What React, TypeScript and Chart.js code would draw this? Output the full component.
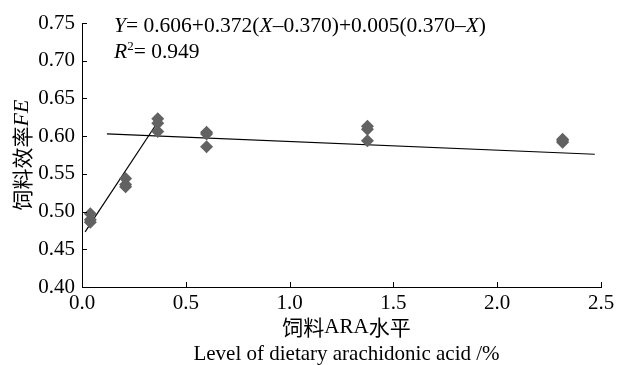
import React, { useEffect, useRef } from "react";
import { Chart, registerables } from "chart.js";

Chart.register(...registerables);

// ARA levels (%) and replicate FE values
const araLevels = [0.04, 0.21, 0.365, 0.6, 1.375, 2.315];
const feRep1 = [0.497, 0.544, 0.623, 0.605, 0.613, 0.596];
const feRep2 = [0.489, 0.536, 0.617, 0.603, 0.609, 0.594];
const feRep3 = [0.486, 0.533, 0.606, 0.586, 0.594, 0.592];

// broken-line fit segments
const riseX = [0.015, 0.38];
const riseY = [0.473, 0.625];
const flatX = [0.12, 2.47];
const flatY = [0.603, 0.576];

const xTicks = [0, 0.5, 1.0, 1.5, 2.0, 2.5];
const yTicks = [0.4, 0.45, 0.5, 0.55, 0.6, 0.65, 0.7, 0.75];

const SERIF = "'Liberation Serif', 'Times New Roman', 'Noto Sans CJK SC', serif";
const CJK = "'Noto Sans CJK SC', 'Liberation Serif', sans-serif";

type Seg = { t: string; font: string; dy?: number };

function drawSegs(ctx: CanvasRenderingContext2D, segs: Seg[], x: number, y: number, align: "left" | "center") {
  let total = 0;
  for (const s of segs) {
    ctx.font = s.font;
    total += ctx.measureText(s.t).width;
  }
  let cx = align === "center" ? x - total / 2 : x;
  ctx.textBaseline = "middle";
  ctx.textAlign = "left";
  for (const s of segs) {
    ctx.font = s.font;
    ctx.fillText(s.t, cx, y + (s.dy || 0));
    cx += ctx.measureText(s.t).width;
  }
}

const decorPlugin = {
  id: "decor",
  afterDraw(chart: any) {
    const ctx: CanvasRenderingContext2D = chart.ctx;
    const xs = chart.scales.x;
    const ys = chart.scales.y;
    const area = chart.chartArea;
    ctx.save();
    ctx.strokeStyle = "#000";
    ctx.lineWidth = 1;
    ctx.beginPath();
    for (const v of xTicks) {
      const px = Math.round(xs.getPixelForValue(v)) + 0.5;
      ctx.moveTo(px, area.bottom);
      ctx.lineTo(px, area.bottom - 5);
    }
    for (const v of yTicks) {
      const py = Math.round(ys.getPixelForValue(v)) + 0.5;
      ctx.moveTo(area.left, py);
      ctx.lineTo(area.left + 5, py);
    }
    ctx.stroke();

    ctx.fillStyle = "#000";
    const f = `21.5px ${SERIF}`;
    const fi = `italic 21.5px ${SERIF}`;
    drawSegs(
      ctx,
      [
        { t: "Y", font: fi },
        { t: "= 0.606+0.372(", font: f },
        { t: "X", font: fi },
        { t: "\u20130.370)+0.005(0.370\u2013", font: f },
        { t: "X", font: fi },
        { t: ")", font: f },
      ],
      114,
      26,
      "left"
    );
    drawSegs(
      ctx,
      [
        { t: "R", font: fi },
        { t: "2", font: `13px ${SERIF}`, dy: -5 },
        { t: "= 0.949", font: f },
      ],
      114,
      52,
      "left"
    );

    // x titles
    const cxm = (area.left + area.right) / 2 + 5;
    drawSegs(
      ctx,
      [
        { t: "饲料", font: `21px ${CJK}` },
        { t: "ARA", font: `21px ${SERIF}` },
        { t: "水平", font: `21px ${CJK}` },
      ],
      cxm,
      327,
      "center"
    );
    drawSegs(ctx, [{ t: "Level of dietary arachidonic acid /%", font: `21px ${SERIF}` }], cxm, 354, "center");

    // y title
    ctx.translate(22, (area.top + area.bottom) / 2);
    ctx.rotate(-Math.PI / 2);
    drawSegs(
      ctx,
      [
        { t: "饲料效率", font: `21px ${CJK}` },
        { t: "FE", font: `italic 22px ${SERIF}` },
      ],
      0,
      0,
      "center"
    );
    ctx.restore();
  },
};

export default function App() {
  const ref = useRef<HTMLCanvasElement | null>(null);
  useEffect(() => {
    document.body.style.margin = "0";
    const canvas = ref.current!;
    const pts = (vals: number[]) => araLevels.map((x, i) => ({ x, y: vals[i] }));
    const markerColor = "#626262";
    const chart = new Chart(canvas, {
      type: "scatter",
      data: {
        datasets: [
          { data: pts(feRep1), pointStyle: "rectRot", pointRadius: 6.5, backgroundColor: markerColor, borderColor: markerColor, borderWidth: 0 },
          { data: pts(feRep2), pointStyle: "rectRot", pointRadius: 6.5, backgroundColor: markerColor, borderColor: markerColor, borderWidth: 0 },
          { data: pts(feRep3), pointStyle: "rectRot", pointRadius: 6.5, backgroundColor: markerColor, borderColor: markerColor, borderWidth: 0 },
          {
            type: "line",
            data: riseX.map((x, i) => ({ x, y: riseY[i] })),
            borderColor: "#000",
            borderWidth: 1.2,
            pointRadius: 0,
            showLine: true,
            fill: false,
          } as any,
          {
            type: "line",
            data: flatX.map((x, i) => ({ x, y: flatY[i] })),
            borderColor: "#000",
            borderWidth: 1.2,
            pointRadius: 0,
            showLine: true,
            fill: false,
          } as any,
        ],
      },
      options: {
        responsive: false,
        animation: false,
        layout: { padding: { top: 23, right: 18, left: 0, bottom: 0 } },
        plugins: { legend: { display: false }, tooltip: { enabled: false } },
        scales: {
          x: {
            type: "linear",
            min: 0,
            max: 2.5,
            afterFit: (s: any) => {
              s.height = 78;
            },
            afterBuildTicks: (s: any) => {
              s.ticks = xTicks.map((v) => ({ value: v }));
            },
            grid: { display: false, drawTicks: false },
            border: { display: true, color: "#000", width: 1 },
            ticks: {
              color: "#000",
              padding: 4,
              font: { family: SERIF, size: 21 },
              callback: (v: any) => Number(v).toFixed(1),
              maxRotation: 0,
            },
          },
          y: {
            type: "linear",
            min: 0.4,
            max: 0.75,
            afterFit: (s: any) => {
              s.width = 82;
            },
            afterBuildTicks: (s: any) => {
              s.ticks = yTicks.map((v) => ({ value: v }));
            },
            grid: { display: false, drawTicks: false },
            border: { display: true, color: "#000", width: 1 },
            ticks: {
              color: "#000",
              padding: 7,
              font: { family: SERIF, size: 21 },
              callback: (v: any) => Number(v).toFixed(2),
            },
          },
        },
      },
      plugins: [decorPlugin],
    });
    return () => chart.destroy();
  }, []);
  return <canvas ref={ref} width={619} height={365} style={{ display: "block" }} />;
}
